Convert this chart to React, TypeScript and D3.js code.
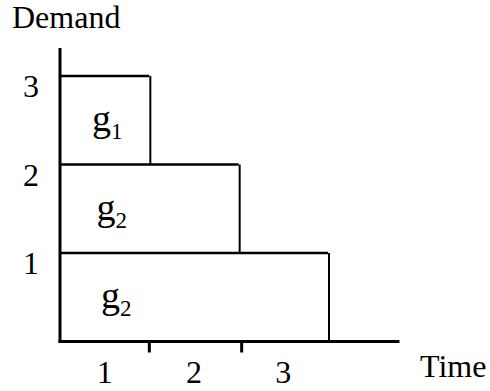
import React from "react";
import * as d3 from "d3";

// Demand levels and time slots on the axes
const demandTicks = [1, 2, 3];
const timeTicks = [1, 2, 3];
const timeTickMarks = [1, 2];

// Stacked generator blocks: each spans time [0, end] between two demand levels
const blockNames = ["g", "g", "g"];
const blockSubs = ["2", "2", "1"];
const blockLows = [0, 1, 2];
const blockHighs = [1, 2, 3];
const blockEnds = [3, 2, 1];

const W = 490;
const H = 391;
const FONT = "'Liberation Serif', 'Times New Roman', serif";

export default function App() {
  const x = d3.scaleLinear().domain([0, 3]).range([60, 328]);
  const y = d3.scaleLinear().domain([0, 3]).range([341.5, 76]);

  const blocks = blockNames.map((name, i) => ({
    name,
    sub: blockSubs[i],
    lo: blockLows[i],
    hi: blockHighs[i],
    end: blockEnds[i],
  }));

  return (
    <svg
      width={W}
      height={H}
      style={{ position: "absolute", left: 0, top: 0, display: "block", background: "#fff" }}
      fontFamily={FONT}
    >
      {/* block outlines: top edge and right edge */}
      {blocks.map((b, i) => (
        <g key={i}>
          <line
            x1={x(0)}
            x2={x(b.end)}
            y1={y(b.hi)}
            y2={y(b.hi)}
            stroke="#000"
            strokeWidth={2.5}
          />
          <line
            x1={x(b.end) + 1}
            x2={x(b.end) + 1}
            y1={y(b.hi)}
            y2={y(b.lo)}
            stroke="#000"
            strokeWidth={2}
          />
          <text
            x={x(0) + 41 - 4.5 * i}
            y={y((b.lo + b.hi) / 2) + 11}
            fontSize={38}
            fill="#000"
          >
            {b.name}
            <tspan fontSize={23} dy={8}>
              {b.sub}
            </tspan>
          </text>
        </g>
      ))}

      {/* axes */}
      <line x1={x(0)} x2={x(0)} y1={48} y2={y(0) + 1.5} stroke="#000" strokeWidth={3} />
      <line x1={x(0) - 1.5} x2={x(3.8)} y1={y(0)} y2={y(0)} stroke="#000" strokeWidth={3} />
      {timeTickMarks.map((t) => (
        <line
          key={t}
          x1={x(t) + (t - 1) * 3}
          x2={x(t) + (t - 1) * 3}
          y1={y(0)}
          y2={y(0) + 11}
          stroke="#000"
          strokeWidth={3}
        />
      ))}

      {/* tick labels */}
      {demandTicks.map((v) => (
        <text key={v} x={31} y={y(v) + 21} fontSize={32} textAnchor="middle" fill="#000">
          {v}
        </text>
      ))}
      {timeTicks.map((t) => (
        <text key={t} x={x(t - 0.5)} y={383} fontSize={32} textAnchor="middle" fill="#000">
          {t}
        </text>
      ))}

      {/* axis titles */}
      <text x={12} y={28} fontSize={32} fill="#000">
        Demand
      </text>
      <text x={420} y={377} fontSize={32} fill="#000">
        Time
      </text>
    </svg>
  );
}
